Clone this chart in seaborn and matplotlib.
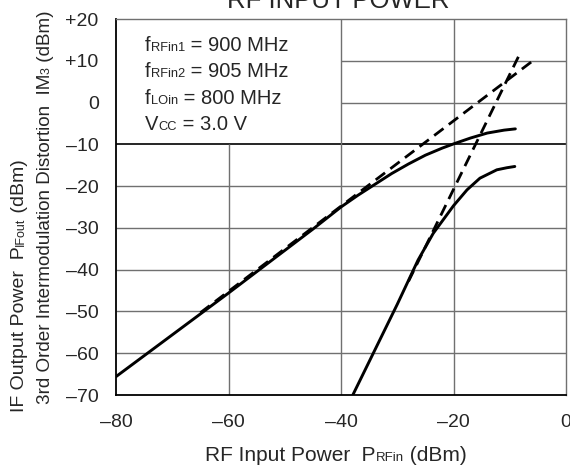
import matplotlib
matplotlib.use("Agg")
import matplotlib.pyplot as plt
import seaborn as sns

# values (dBm)
fund_x = [-80, -60, -45, -40, -37, -34, -31, -28, -25, -22, -20, -17, -14, -11, -9]
fund_y = [-65.6, -45.6, -30.3, -25.0, -22.2, -19.6, -17.0, -14.7, -12.6, -10.9, -9.9, -8.5, -7.3, -6.6, -6.3]

im3_x = [-37.9, -30, -26.3, -23.6, -20.0, -17.6, -15.3, -12.3, -10.5, -9.1]
im3_y = [-70.0, -48.3, -37.7, -31.3, -24.7, -20.9, -18.1, -16.1, -15.6, -15.3]

# extrapolated (dashed) lines
fund_ext_x = [-65, -5.5]
fund_ext_y = [-50.3, 10.4]
im3_ext_x = [-28, -8.05]
im3_ext_y = [-42.8, 12.1]

x_ticks = [-80, -60, -40, -20, 0]
x_ticklabels = ['–80', '–60', '–40', '–20', '0']
y_ticks = [20, 10, 0, -10, -20, -30, -40, -50, -60, -70]
y_ticklabels = ['+20', '+10', '0', '–10', '–20', '–30', '–40', '–50', '–60', '–70']

W, H = 570, 467
FS = 14
SUB = 9


def rich_text(fig, x, y, pieces, rotation=0):
    """draw text pieces of different sizes on one baseline, x/y in pixels"""
    r = fig.canvas.get_renderer()
    for s, size in pieces:
        t = fig.text(x / W, y / H, s, fontsize=size, rotation=rotation,
                     rotation_mode='anchor', ha='left', va='baseline')
        bb = t.get_window_extent(r)
        if rotation == 90:
            y += bb.height
        else:
            x += bb.width


sns.set_style('white')
plt.rcParams['font.family'] = ['Liberation Sans', 'DejaVu Sans']

fig = plt.figure(figsize=(W / 100, H / 100), dpi=100)
ax = fig.add_axes([116 / W, (H - 395) / H, 450 / W, 376 / H])

# partial grid: the upper left quarter holds the conditions box
grid_c = '#707070'
ax.hlines([-20, -30, -40, -50, -60], -80, 0, color=grid_c, lw=1, zorder=1)
ax.hlines([10, 0], -40, 0, color=grid_c, lw=1, zorder=1)
ax.hlines([-10], -80, 0, color='black', lw=1.2, zorder=1)
ax.vlines([-40, -20], -70, 20, color=grid_c, lw=1, zorder=1)
ax.vlines([-60], -70, -10, color=grid_c, lw=1, zorder=1)

sns.lineplot(x=fund_x, y=fund_y, ax=ax, color='black', lw=2.1, zorder=3)
sns.lineplot(x=im3_x, y=im3_y, ax=ax, color='black', lw=2.1, zorder=3)
sns.lineplot(x=fund_ext_x, y=fund_ext_y, ax=ax, color='black', lw=2.0,
             linestyle=(0, (4.2, 2.4)), zorder=3)
sns.lineplot(x=im3_ext_x, y=im3_ext_y, ax=ax, color='black', lw=2.0,
             linestyle=(0, (4.2, 2.4)), zorder=3)

ax.set_xlim(-80, 0)
ax.set_ylim(-70, 20)
ax.set_xticks(x_ticks)
ax.set_xticklabels(x_ticklabels)
ax.set_yticks(y_ticks)
ax.set_yticklabels(y_ticklabels)
ax.tick_params(axis='x', length=0, pad=13.5, labelsize=FS)
ax.tick_params(axis='y', length=0, pad=12.5, labelsize=FS)
for side in ['left', 'bottom']:
    ax.spines[side].set_color('black')
    ax.spines[side].set_linewidth(1.3)
for side in ['top', 'right']:
    ax.spines[side].set_color(grid_c)
    ax.spines[side].set_linewidth(1)

# title, mostly cut off at the top edge
fig.text(338 / W, 459.5 / H, 'RF INPUT POWER', fontsize=18.5, ha='center', va='baseline')

# conditions box text
cond = [
    [('f', 14.5), ('RFin1', 9.3), (' = 900 MHz', 14.5)],
    [('f', 14.5), ('RFin2', 9.3), (' = 905 MHz', 14.5)],
    [('f', 14.5), ('LOin', 9.3), (' = 800 MHz', 14.5)],
    [('V', 14.5), ('CC', 9.3), (' = 3.0 V', 14.5)],
]
for i, line in enumerate(cond):
    rich_text(fig, 145, H - (50.7 + 26.6 * i), line)

# axis labels
rich_text(fig, 205, 6, [('RF Input Power', 15), ('  P', 15), ('RFin', 9.5), (' (dBm)', 15)])
rich_text(fig, 24, H - 412, [('IF Output Power', FS), ('  P', FS), ('IFout', SUB), (' (dBm)', FS)],
          rotation=90)
rich_text(fig, 50, H - 404, [('3rd Order Intermodulation Distortion', 13.6), ('  IM', 13.6),
                             ('3', SUB), (' (dBm)', 13.6)], rotation=90)

fig.savefig('out.png', dpi=100)
